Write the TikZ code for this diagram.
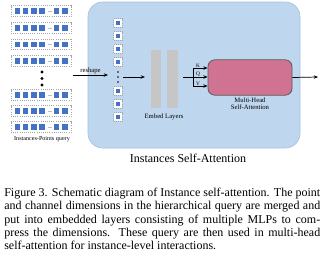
\documentclass[tikz,border=0pt]{standalone}
\usepackage{fontspec}
\setmainfont{Liberation Serif}
\usepackage{tikz}
\usetikzlibrary{arrows.meta,positioning}

\definecolor{panelblue}{RGB}{191,215,238}
\definecolor{paneledge}{RGB}{165,194,226}
\definecolor{cellblue}{RGB}{68,114,196}
\definecolor{attnpink}{RGB}{208,115,147}
\definecolor{embedgray}{RGB}{198,198,198}

\tikzset{
  cell/.style={fill=cellblue, minimum size=4.1pt, inner sep=0pt},
  rowbox/.style={draw=gray!70, densely dotted, line width=0.6pt, fill=white,
    minimum width=45pt, minimum height=8pt, inner sep=0pt},
  tokenbox/.style={draw=gray!70, densely dotted, line width=0.6pt, fill=white,
    minimum size=6.6pt, inner sep=0pt},
  tokencell/.style={fill=cellblue, minimum size=3.6pt, inner sep=0pt},
  embedbar/.style={fill=embedgray, minimum height=43.5pt, inner sep=0pt},
  tinylabel/.style={font=\fontsize{5}{5.6}\selectfont, inner sep=0.5pt},
  flow/.style={-{Stealth[length=3.2pt,width=2.6pt]}, line width=0.55pt}
}

\begin{document}
\begin{tikzpicture}[x=0.75pt,y=-0.75pt]
\useasboundingbox (0,0) rectangle (325,258);

% Panel
\draw[fill=panelblue, draw=paneledge, line width=0.5pt, rounded corners=11pt]
  (88,2) rectangle (300,148);

% Instance-point query rows
\foreach \y [count=\i] in {11,28,44.5,61,95,111,127} {
  \node[rowbox] (row\i) at (41,\y) {};
  \foreach \dx [count=\j] in {-23.5,-15.3,-7.1,1.1,15.6,23.8}
    \node[cell] (cell\i-\j) at ({41+\dx},\y) {};
  \draw[gray!50, line width=0.5pt] ({41+6.5},\y) -- ({41+11},\y);
}
\foreach \y in {72,78.5,85} \fill (42,\y) circle (1.3pt);
\node[tinylabel, font=\fontsize{4.6}{5}\selectfont] (queryLabel) at (42,139) {Instances-Points query};

% Reshape
\coordinate (reshapeS) at (73,75);
\coordinate (reshapeE) at (108,75);
\draw[flow] (reshapeS) -- node[tinylabel, above] {reshape} (reshapeE);

% Merged tokens
\foreach \y [count=\i] in {23,36,49,62,91,104,117} {
  \node[tokenbox] (tok\i) at (118,\y) {};
  \node[tokencell] (tokc\i) at (118,\y) {};
}
\foreach \y in {72,77,82} \fill (118,\y) circle (0.6pt);

% Embed layers
\coordinate (tokS) at (123,77);
\coordinate (tokE) at (145,77);
\draw[flow] (tokS) -- (tokE);
\node[embedbar, minimum width=7.5pt] (embed1) at (156,79) {};
\node[embedbar, minimum width=8.2pt] (embed2) at (172.5,79) {};
\node[tinylabel] (embedLabel) at (164,117) {Embed Layers};

% K, Q, V split
\coordinate (embedOut) at (183,77);
\coordinate (kqv) at (193,77);
\coordinate (kIn) at (193,68);
\coordinate (vIn) at (193,86);
\draw[line width=0.55pt] (embedOut) -- (kqv);
\draw[line width=0.55pt] (kIn) -- (vIn);

% Multi-head self-attention
\node[draw=black!65, fill=attnpink, line width=0.6pt, rounded corners=5pt,
  minimum width=63pt, minimum height=26.5pt] (mhsa) at (250,77.5) {};
\draw[flow] (kIn) -- node[above, pos=0.35, font=\fontsize{4}{4}\selectfont, inner sep=0.3pt] {K} (kIn -| mhsa.west);
\draw[flow] (kqv) -- node[above, pos=0.35, font=\fontsize{4}{4}\selectfont, inner sep=0.3pt] {Q} (kqv -| mhsa.west);
\draw[flow] (vIn) -- node[above, pos=0.35, font=\fontsize{4}{4}\selectfont, inner sep=0.3pt] {V} (vIn -| mhsa.west);
\node[tinylabel, align=center, below=1pt of mhsa] (mhsaLabel) {Multi-Head\\Self-Attention};

\coordinate (output) at (318,77);
\draw[flow] (mhsa.east) -- (output);

% Title and caption
\node[font=\fontsize{9}{10}\selectfont] (title) at (188,158) {Instances Self-Attention};
\node[anchor=north west, text width=237pt, inner sep=0pt, align=justify,
  font=\fontsize{9}{9.95}\selectfont] (caption) at (4,188)
  {Figure 3. Schematic diagram of Instance self-attention. The point\linebreak
   and channel dimensions in the hierarchical query are merged and\linebreak
   put into embedded layers consisting of multiple MLPs to com-\linebreak
   press the dimensions. These query are then used in multi-head\linebreak
   self-attention for instance-level interactions.};
\end{tikzpicture}
\end{document}
